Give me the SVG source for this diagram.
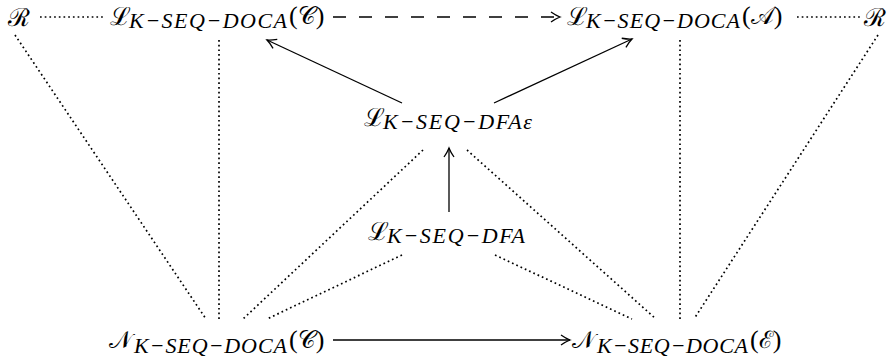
<svg xmlns="http://www.w3.org/2000/svg" width="891" height="362" viewBox="0 0 891 362">
<style>
text{fill:#000}
.m{font-family:"DejaVu Serif","Liberation Serif",serif;font-size:24px}
.L{font-family:"DejaVu Serif","Liberation Serif",serif;font-size:25px}
.s{font-family:"Liberation Serif","DejaVu Serif",serif;font-style:italic;font-size:22px}
.p{font-family:"Liberation Serif",serif;font-size:26px}
.dot{stroke:#000;stroke-width:1.7;stroke-dasharray:1.7 3;fill:none}
.arr{stroke:#000;stroke-width:1.3;fill:none;marker-end:url(#h)}
.dash{stroke-dasharray:13 13}
</style>
<defs>
<marker id="h" markerWidth="14" markerHeight="14" refX="0" refY="0" viewBox="-10 -7 12 14" markerUnits="userSpaceOnUse" orient="auto">
<path d="M -9 -5 Q -4 -1.5 0 0 Q -4 1.5 -9 5" stroke="#000" stroke-width="1.3" fill="none"/>
</marker>
</defs>
<g id="connectors">
<line class="dot" x1="40" y1="17" x2="103" y2="17"/>
<line class="dot" x1="797" y1="17" x2="860" y2="17"/>
<line class="dot" x1="15" y1="35" x2="206" y2="319"/>
<line class="dot" x1="219" y1="40" x2="219" y2="319"/>
<line class="dot" x1="423" y1="150" x2="243" y2="319"/>
<line class="dot" x1="402" y1="255" x2="267" y2="319"/>
<line class="dot" x1="467" y1="150" x2="656" y2="319"/>
<line class="dot" x1="495" y1="255" x2="632" y2="319"/>
<line class="dot" x1="680" y1="40" x2="680" y2="319"/>
<line class="dot" x1="878" y1="35" x2="694" y2="319"/>
<line class="arr dash" x1="333" y1="17" x2="560" y2="17"/>
<line class="arr" x1="402" y1="103" x2="267" y2="40"/>
<line class="arr" x1="494" y1="103" x2="632" y2="39"/>
<line class="arr" x1="449" y1="212" x2="449" y2="148"/>
<line class="arr" x1="333" y1="340" x2="570" y2="340"/>
</g>
<g id="R-left"><text class="L" x="8" y="26">ℛ</text></g>
<g id="L-DOCA-C">
<text class="L" x="110" y="25">ℒ</text>
<text class="s" x="129" y="28" textLength="158" lengthAdjust="spacing">K−SEQ−DOCA</text>
<text class="p" x="289" y="24">(<tspan class="m">𝒞</tspan>)</text>
</g>
<g id="L-DOCA-A">
<text class="L" x="567" y="25">ℒ</text>
<text class="s" x="586" y="28" textLength="154" lengthAdjust="spacing">K−SEQ−DOCA</text>
<text class="p" x="742" y="24">(<tspan class="m">𝒜</tspan>)</text>
</g>
<g id="R-right"><text class="L" x="864" y="26">ℛ</text></g>
<g id="L-DFAe">
<text class="L" x="364" y="126">ℒ</text>
<text class="s" x="383" y="129" textLength="149" lengthAdjust="spacing">K−SEQ−DFAε</text>
</g>
<g id="L-DFA">
<text class="L" x="368" y="240">ℒ</text>
<text class="s" x="387" y="243" textLength="138" lengthAdjust="spacing">K−SEQ−DFA</text>
</g>
<g id="N-DOCA-C">
<text class="m" x="109" y="348">𝒩</text>
<text class="s" x="134" y="353" textLength="153" lengthAdjust="spacing">K−SEQ−DOCA</text>
<text class="p" x="289" y="348">(<tspan class="m">𝒞</tspan>)</text>
</g>
<g id="N-DOCA-E">
<text class="m" x="572" y="348">𝒩</text>
<text class="s" x="597" y="353" textLength="151" lengthAdjust="spacing">K−SEQ−DOCA</text>
<text class="p" x="750" y="348">(<tspan class="m">ℰ</tspan>)</text>
</g>
</svg>
